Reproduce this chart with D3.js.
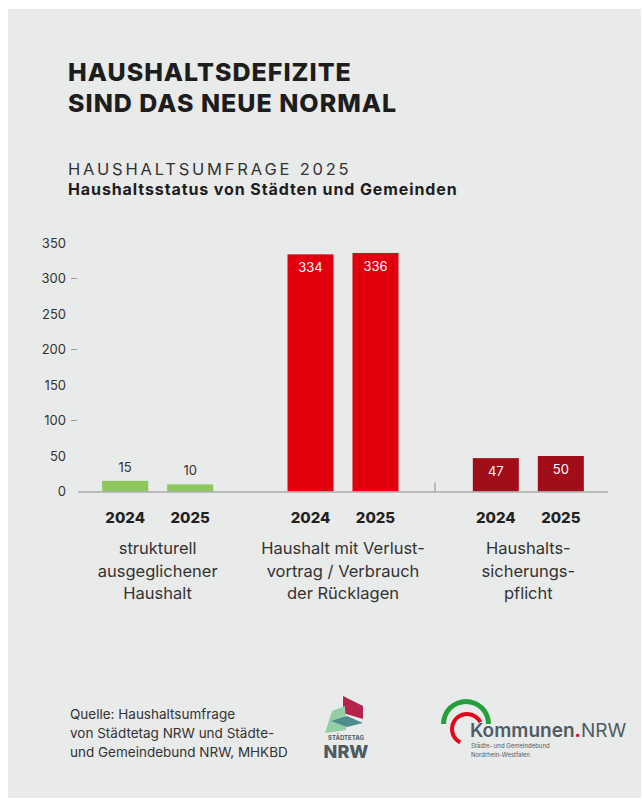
<!DOCTYPE html>
<html>
<head>
<meta charset="utf-8">
<script src="https://cdn.jsdelivr.net/npm/d3@7"></script>
<style>
  body { margin: 0; background: #ffffff; }
  svg { display: block; font-family: Inter, "Noto Sans", sans-serif; }
</style>
</head>
<body>
<svg width="643" height="807"></svg>
<script>
// chart data
var categories = ["strukturell ausgeglichen", "Verlustvortrag", "Haushaltssicherung"];
var categoryLines = [
  ["strukturell", "ausgeglichener", "Haushalt"],
  ["Haushalt mit Verlust-", "vortrag / Verbrauch", "der Rücklagen"],
  ["Haushalts-", "sicherungs-", "pflicht"]
];
var years = ["2024", "2025"];
var values2024 = [15, 334, 47];
var values2025 = [10, 336, 50];
var yTicks = [0, 50, 100, 150, 200, 250, 300, 350];
var colors = ["#8dc75b", "#e2000f", "#a10d18"];

var svg = d3.select("svg");

// panel
svg.append("rect")
  .attr("x", 8).attr("y", 9)
  .attr("width", 633).attr("height", 789)
  .attr("fill", "#e9eaea");

// titles
svg.append("text").attr("x", 68).attr("y", 81)
  .attr("font-size", 25).attr("font-weight", 800).attr("letter-spacing", 1)
  .attr("fill", "#1d1d1d")
  .text("HAUSHALTSDEFIZITE");
svg.append("text").attr("x", 68).attr("y", 112)
  .attr("font-size", 25).attr("font-weight", 800).attr("letter-spacing", 1)
  .attr("fill", "#1d1d1d")
  .text("SIND DAS NEUE NORMAL");
svg.append("text").attr("x", 68).attr("y", 175)
  .attr("font-size", 16.5).attr("letter-spacing", 2.8).attr("fill", "#333")
  .text("HAUSHALTSUMFRAGE 2025");
svg.append("text").attr("x", 68).attr("y", 195)
  .attr("font-size", 16).attr("font-weight", 700).attr("letter-spacing", 0.9)
  .attr("fill", "#1d1d1d")
  .text("Haushaltsstatus von Städten und Gemeinden");

// scales
var y = d3.scaleLinear().domain([0, 350]).range([491.5, 243]);
var x0 = d3.scaleBand().domain(categories).range([65, 621]);
var x1 = d3.scaleBand().domain(years).range([0, 111]).paddingInner(0.292).paddingOuter(0);

// y axis labels
var yAxis = svg.append("g");
yAxis.selectAll("text.tick")
  .data(yTicks).enter().append("text")
  .attr("x", 66).attr("y", function(d) { return y(d) + 4.5; })
  .attr("text-anchor", "end").attr("font-size", 13).attr("fill", "#333")
  .text(function(d) { return d; });
yAxis.selectAll("line.mark")
  .data(yTicks.filter(function(d) { return d > 0 && d % 100 == 0; }))
  .enter().append("line")
  .attr("x1", 71).attr("x2", 77)
  .attr("y1", function(d) { return y(d); }).attr("y2", function(d) { return y(d); })
  .attr("stroke", "#999").attr("stroke-width", 1);

// bars
var rows = [];
categories.forEach(function(c, i) {
  rows.push({cat: c, idx: i, year: years[0], value: values2024[i]});
  rows.push({cat: c, idx: i, year: years[1], value: values2025[i]});
});

var groupX = function(d) { return x0(d.cat) + x0.bandwidth() / 2 - 55.5; };

svg.append("g").selectAll("rect")
  .data(rows).enter().append("rect")
  .attr("x", function(d) { return groupX(d) + x1(d.year); })
  .attr("y", function(d) { return y(d.value); })
  .attr("width", x1.bandwidth())
  .attr("height", function(d) { return y(0) - y(d.value); })
  .attr("fill", function(d) { return colors[d.idx]; });

// value labels
svg.append("g").selectAll("text")
  .data(rows).enter().append("text")
  .attr("x", function(d) { return groupX(d) + x1(d.year) + x1.bandwidth() / 2; })
  .attr("y", function(d) {
    var h = y(0) - y(d.value);
    return h > 25 ? y(d.value) + 18 : y(d.value) - 9;
  })
  .attr("text-anchor", "middle").attr("font-size", 13)
  .attr("fill", function(d) { return (y(0) - y(d.value)) > 25 ? "#ffffff" : "#333"; })
  .text(function(d) { return d.value; });

// baseline
svg.append("line")
  .attr("x1", 78).attr("x2", 608)
  .attr("y1", y(0) + 0.5).attr("y2", y(0) + 0.5)
  .attr("stroke", "#a9abab").attr("stroke-width", 1.5);
svg.append("line")
  .attr("x1", 435).attr("x2", 435)
  .attr("y1", y(0) - 9).attr("y2", y(0))
  .attr("stroke", "#888").attr("stroke-width", 1);

// year labels
svg.append("g").selectAll("text")
  .data(rows).enter().append("text")
  .attr("x", function(d) { return groupX(d) + x1(d.year) + x1.bandwidth() / 2; })
  .attr("y", 523)
  .attr("text-anchor", "middle").attr("font-size", 15).attr("font-weight", 800)
  .attr("fill", "#222")
  .text(function(d) { return d.year; });

// category labels
var catG = svg.append("g").selectAll("text")
  .data(categories).enter().append("text")
  .attr("text-anchor", "middle").attr("font-size", 16.5).attr("fill", "#333");
catG.each(function(c, i) {
  var t = d3.select(this);
  categoryLines[i].forEach(function(line, j) {
    t.append("tspan")
      .attr("x", x0(c) + x0.bandwidth() / 2)
      .attr("y", 554 + j * 22.5)
      .text(line);
  });
});

// source
var src = ["Quelle: Haushaltsumfrage", "von Städtetag NRW und Städte-", "und Gemeindebund NRW, MHKBD"];
svg.append("g").selectAll("text")
  .data(src).enter().append("text")
  .attr("x", 70).attr("y", function(d, i) { return 719 + i * 19; })
  .attr("font-size", 13.5).attr("fill", "#333")
  .text(function(d) { return d; });

// Städtetag NRW logo
var lg = svg.append("g");
lg.append("path").attr("d", "M343,696 L363,706 L363,719 L343,713 Z").attr("fill", "#b5224b");
lg.append("path").attr("d", "M325,733 L332,711 L345,706 L346,730 Z").attr("fill", "#93cfa4");
lg.append("path").attr("d", "M331,721 L347,716 L363,723 L347,727 Z").attr("fill", "#4f8c8f");
lg.append("text").attr("x", 346).attr("y", 739.5).attr("text-anchor", "middle")
  .attr("font-size", 6).attr("font-weight", 700).attr("fill", "#4b5a63").text("STÄDTETAG");
lg.append("text").attr("x", 346).attr("y", 758).attr("text-anchor", "middle")
  .attr("font-size", 18).attr("font-weight", 800).attr("fill", "#4b5a63").text("NRW");

// Kommunen.NRW logo
var kg = svg.append("g");
var arcG = d3.arc();
kg.append("path")
  .attr("transform", "translate(466,724)")
  .attr("d", arcG({innerRadius: 20, outerRadius: 25, startAngle: -Math.PI / 2, endAngle: Math.PI / 2}))
  .attr("fill", "#23a03c");
kg.append("path")
  .attr("transform", "translate(467,729)")
  .attr("d", arcG({innerRadius: 13, outerRadius: 17, startAngle: -Math.PI * 0.85, endAngle: Math.PI * 0.35}))
  .attr("fill", "#e3061a");
var kt = kg.append("text").attr("x", 470).attr("y", 737).attr("font-size", 19).attr("fill", "#4f5c65");
kt.append("tspan").attr("font-weight", 600).text("Kommunen");
kt.append("tspan").attr("font-weight", 700).attr("fill", "#e3061a").text(".");
kt.append("tspan").attr("font-weight", 400).text("NRW");
kg.append("text").attr("x", 471).attr("y", 748).attr("font-size", 6).attr("fill", "#4f5c65")
  .text("Städte- und Gemeindebund");
kg.append("text").attr("x", 471).attr("y", 757).attr("font-size", 6).attr("fill", "#4f5c65")
  .text("Nordrhein-Westfalen");
</script>
</body>
</html>
